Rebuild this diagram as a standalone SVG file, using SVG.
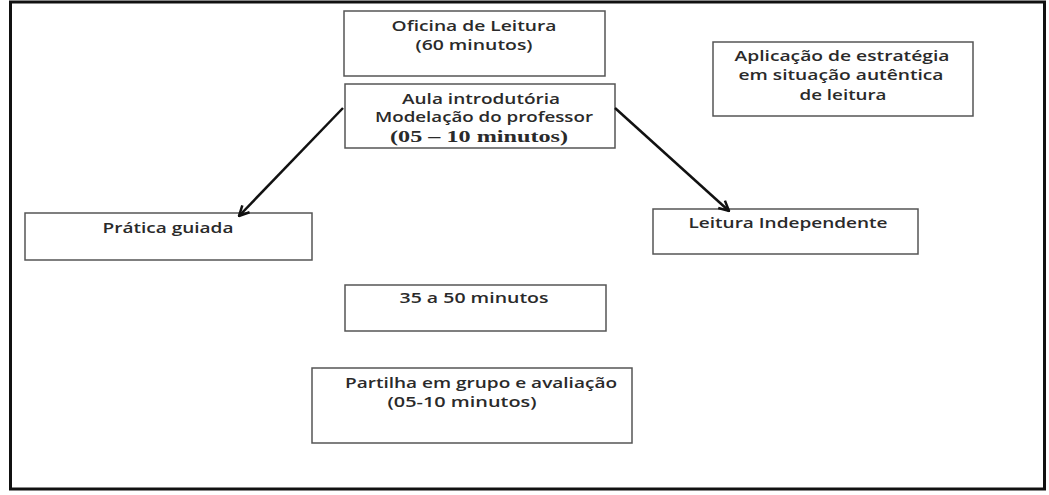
<svg xmlns="http://www.w3.org/2000/svg" width="1049" height="495" viewBox="0 0 1049 495">
<style>
.box{fill:#fff;stroke:#555;stroke-width:1.5}
.t{font-family:"Open Sans","Liberation Sans",sans-serif;font-size:15px;font-weight:600;fill:#2a2a2a;text-anchor:middle}
.s{font-family:"Liberation Serif",serif;font-size:17px;font-weight:bold;fill:#2a2a2a;text-anchor:middle}
.c{stroke:#111;stroke-width:2.5;fill:none}
</style>
<defs>
<marker id="ah" viewBox="0 0 10 10" refX="9" refY="5" markerWidth="5" markerHeight="5" orient="auto" markerUnits="strokeWidth">
<path d="M1,1 L9,5 L1,9" fill="none" stroke="#111" stroke-width="2"/>
</marker>
</defs>
<rect width="1049" height="495" fill="#fff"/>
<rect id="frame" x="10.5" y="2" width="1034" height="487" fill="none" stroke="#111" stroke-width="3"/>
<g id="oficina"><rect class="box" x="344" y="11" width="261" height="65"/>
<text class="t" x="474" y="31" textLength="165" lengthAdjust="spacingAndGlyphs">Oficina de Leitura</text>
<text class="t" x="474" y="50" textLength="117" lengthAdjust="spacingAndGlyphs">(60 minutos)</text></g>
<g id="aula"><rect class="box" x="345" y="84" width="270" height="64"/>
<text class="t" x="481" y="104" textLength="158" lengthAdjust="spacingAndGlyphs">Aula introdutória</text>
<text class="t" x="484" y="122" textLength="218" lengthAdjust="spacingAndGlyphs">Modelação do professor</text>
<text class="s" x="479" y="142" textLength="178" lengthAdjust="spacingAndGlyphs">(05 – 10 minutos)</text></g>
<g id="aplicacao"><rect class="box" x="713" y="42" width="260" height="74"/>
<text class="t" x="842" y="61" textLength="215" lengthAdjust="spacingAndGlyphs">Aplicação de estratégia</text>
<text class="t" x="841" y="80" textLength="205" lengthAdjust="spacingAndGlyphs">em situação autêntica</text>
<text class="t" x="843" y="100" textLength="87" lengthAdjust="spacingAndGlyphs">de leitura</text></g>
<g id="pratica"><rect class="box" x="25" y="213" width="287" height="47"/>
<text class="t" x="168" y="233" textLength="131" lengthAdjust="spacingAndGlyphs">Prática guiada</text></g>
<g id="leitura"><rect class="box" x="653" y="209" width="265" height="45"/>
<text class="t" x="788" y="228" textLength="199" lengthAdjust="spacingAndGlyphs">Leitura Independente</text></g>
<g id="tempo"><rect class="box" x="345" y="285" width="261" height="46"/>
<text class="t" x="474" y="303" textLength="149" lengthAdjust="spacingAndGlyphs">35 a 50 minutos</text></g>
<g id="partilha"><rect class="box" x="312" y="368" width="320" height="75"/>
<text class="t" x="481" y="388" textLength="272" lengthAdjust="spacingAndGlyphs">Partilha em grupo e avaliação</text>
<text class="t" x="462" y="407" textLength="149" lengthAdjust="spacingAndGlyphs">(05-10 minutos)</text></g>
<g id="connectors">
<line class="c" x1="343" y1="108" x2="239" y2="216" marker-end="url(#ah)"/>
<line class="c" x1="615" y1="108" x2="729" y2="211" marker-end="url(#ah)"/>
</g>
</svg>
